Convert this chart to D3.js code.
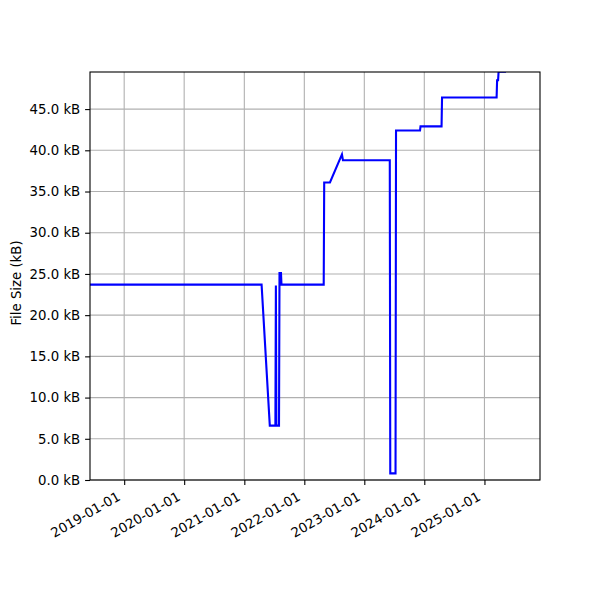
<!DOCTYPE html>
<html lang="en">
<head>
    <meta charset="UTF-8">
    <title>File Size over time</title>
    <script src="https://d3js.org/d3.v7.min.js"></script>
    <style>
        body { margin: 0; background: #fff; }
        svg text { font-family: "DejaVu Sans", sans-serif; fill: #000; }
    </style>
</head>
<body>
<div id="chart"></div>
<script>
    // Data: corner points of the file size history (kB)
    const dates = [
        "2018-06-07", "2021-04-16", "2021-06-05", "2021-07-09", "2021-07-12", "2021-07-15",
        "2021-07-31", "2021-08-03", "2021-08-12", "2021-08-15", "2022-04-29", "2022-05-02",
        "2022-06-06", "2022-08-18", "2022-08-24", "2023-06-05", "2023-06-08", "2023-07-10",
        "2023-07-13", "2023-12-06", "2023-12-09", "2024-04-15", "2024-04-18", "2025-03-16",
        "2025-03-19", "2025-03-25", "2025-03-28", "2025-05-12"
    ];
    const sizes = [
        23.7, 23.7, 6.6, 6.6, 23.6, 6.6,
        6.6, 25.1, 25.1, 23.7, 23.7, 36.1,
        36.1, 39.5, 38.8, 38.8, 0.8, 0.8,
        42.4, 42.4, 42.9, 42.9, 46.4, 46.4,
        48.5, 48.5, 49.55, 49.55
    ];
    const yTicks = [0, 5, 10, 15, 20, 25, 30, 35, 40, 45];
    const xTicks = ["2019-01-01", "2020-01-01", "2021-01-01", "2022-01-01", "2023-01-01", "2024-01-01", "2025-01-01"];
    const xRange = ["2018-06-07", "2025-12-05"];
    const yMax = 49.5;

    const parse = d3.timeParse("%Y-%m-%d");
    const data = dates.map((d, i) => ({date: parse(d), size: sizes[i]}));

    const margin = {top: 72, right: 60, bottom: 120, left: 90},
        width = 600 - margin.left - margin.right,
        height = 600 - margin.top - margin.bottom;

    const svg = d3.select("#chart")
      .append("svg")
        .attr("width", 600)
        .attr("height", 600)
      .append("g")
        .attr("transform", `translate(${margin.left},${margin.top})`);

    const x = d3.scaleTime()
        .domain(xRange.map(parse))
        .range([0, width]);
    const y = d3.scaleLinear()
        .domain([0, yMax])
        .range([height, 0]);

    // grid lines
    svg.append("g")
        .selectAll("line.vgrid")
        .data(xTicks.map(parse))
        .join("line")
          .attr("x1", d => x(d)).attr("x2", d => x(d))
          .attr("y1", 0).attr("y2", height)
          .attr("stroke", "#b0b0b0").attr("stroke-width", 1.1);
    svg.append("g")
        .selectAll("line.hgrid")
        .data(yTicks)
        .join("line")
          .attr("x1", 0).attr("x2", width)
          .attr("y1", d => y(d)).attr("y2", d => y(d))
          .attr("stroke", "#b0b0b0").attr("stroke-width", 1.1);

    // the line, clipped to the axes
    svg.append("clipPath").attr("id", "clip")
      .append("rect").attr("width", width).attr("height", height);

    const line = d3.line()
        .x(d => x(d.date))
        .y(d => y(d.size));
    svg.append("path")
        .datum(data)
        .attr("clip-path", "url(#clip)")
        .attr("fill", "none")
        .attr("stroke", "blue")
        .attr("stroke-width", 2.1)
        .attr("stroke-linejoin", "miter")
        .attr("d", line);

    // Y axis
    const yAxis = svg.append("g")
        .call(d3.axisLeft(y).tickValues(yTicks).tickSize(4.9).tickPadding(4.9)
            .tickFormat(d => d3.format(".1f")(d) + " kB"));
    yAxis.selectAll("text").style("font-size", "13.3px");

    // X axis
    const xAxis = svg.append("g")
        .attr("transform", `translate(0,${height})`)
        .call(d3.axisBottom(x).tickValues(xTicks.map(parse)).tickSize(4.9)
            .tickFormat(d3.timeFormat("%Y-%m-%d")));
    xAxis.selectAll("text")
        .style("font-size", "13.3px")
        .attr("text-anchor", "end")
        .attr("y", 0)
        .attr("dy", "0.76em")
        .attr("transform", "translate(-8.5,10.5) rotate(-30)");

    // frame
    svg.append("rect")
        .attr("width", width).attr("height", height)
        .attr("fill", "none").attr("stroke", "#000").attr("stroke-width", 1.1);
    svg.selectAll(".domain").remove();
    svg.selectAll(".tick line").attr("stroke", "#000").attr("stroke-width", 1.1);

    // Y label
    svg.append("text")
        .attr("transform", "rotate(-90)")
        .attr("x", -(283 - margin.top))
        .attr("y", 16 - margin.left)
        .attr("dy", "0.35em")
        .attr("text-anchor", "middle")
        .style("font-size", "13.3px")
        .text("File Size (kB)");
</script>
</body>
</html>
